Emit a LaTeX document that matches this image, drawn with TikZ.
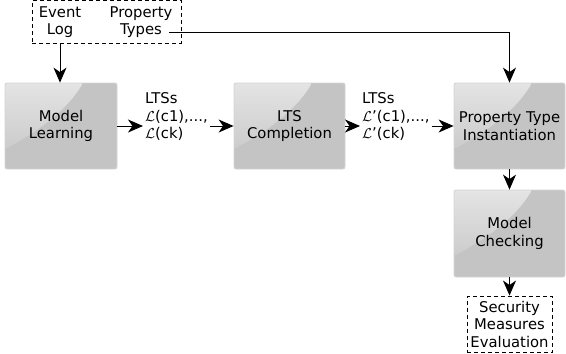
\documentclass[tikz,border=0pt]{standalone}
\usepackage{fontspec}
\setmainfont{DejaVu Sans}
\usetikzlibrary{arrows.meta,calc}
\definecolor{boxfill}{HTML}{C4C4C4}
\definecolor{boxedge}{HTML}{D4D4D4}
\definecolor{glosshi}{HTML}{E4E4E4}
\newcommand\dfont{\fontsize{14.8}{17.6}\selectfont}
\newcommand\scrL{$\mathcal{L}$}
\tikzset{
  procbox/.style={draw=boxedge, line width=0.8pt, rounded corners=2pt, fill=boxfill,
    minimum width=112pt, minimum height=86pt, inner sep=0pt, align=center, font=\dfont,
    path picture={
      \shade[top color=glosshi, bottom color=boxfill]
        (path picture bounding box.north west)
        -- ($(path picture bounding box.north west)+(78pt,0pt)$)
        .. controls ($(path picture bounding box.north west)+(60pt,-30pt)$)
        and ($(path picture bounding box.north west)+(30pt,-50pt)$)
        .. ($(path picture bounding box.north west)+(0pt,-66pt)$) -- cycle;
    }},
  dbox/.style={draw=black, dash pattern=on 4pt off 3pt, line width=0.9pt, inner sep=0pt,
    align=center, font=\dfont},
  txt/.style={font=\dfont, align=center, inner sep=0pt},
  lbl/.style={font=\dfont, align=left, inner sep=0pt, inner xsep=2pt, anchor=west},
  conn/.style={draw=black, line width=1pt, -{Stealth[length=15pt,width=13pt,inset=4.5pt]}}
}
\begin{document}
\begin{tikzpicture}[x=1pt,y=-1pt]
\useasboundingbox (0,0) rectangle (566,354);
\node[procbox] (ml) at (61,126) {Model\\Learning};
\node[procbox, minimum width=111pt] (lc) at (289.5,126) {LTS\\Completion};
\node[procbox, minimum width=111pt] (pti) at (509.5,126) {Property Type\\Instantiation};
\node[procbox, minimum width=111pt, minimum height=87pt] (mc) at (509.5,233.5) {Model\\Checking};
\node[dbox, minimum width=149pt, minimum height=42.5pt] (ev) at (106.5,21.75) {};
\node[txt] (el) at (60,22) {Event\\Log};
\node[txt] (pt) at (141,22) {Property\\Types};
\node[dbox, minimum width=85pt, minimum height=56.5pt] (sec) at (509.5,324.25) {Security\\Measures\\Evaluation};
\node[lbl] (l1) at (143,116.5) {LTSs\\\scrL(c1),...,\\\scrL(ck)};
\node[lbl] (l2) at (360,116.5) {LTSs\\\scrL'(c1),...,\\\scrL'(ck)};
\coordinate (tyout) at (169,32);
\draw[conn] (ml.east) -- (ml.east -| l1.west);
\draw[conn] (l1.east |- ml.east) -- (lc.west);
\draw[conn] (lc.east) -- (lc.east -| l2.west);
\draw[conn] (l2.east |- lc.east) -- (pti.west);
\draw[conn] (el |- ev.south) -- (el |- ml.north);
\draw[conn] (tyout) -| (pti.north);
\draw[conn] (pti.south) -- (mc.north);
\draw[conn] (mc.south) -- (sec.north);
\end{tikzpicture}
\end{document}
